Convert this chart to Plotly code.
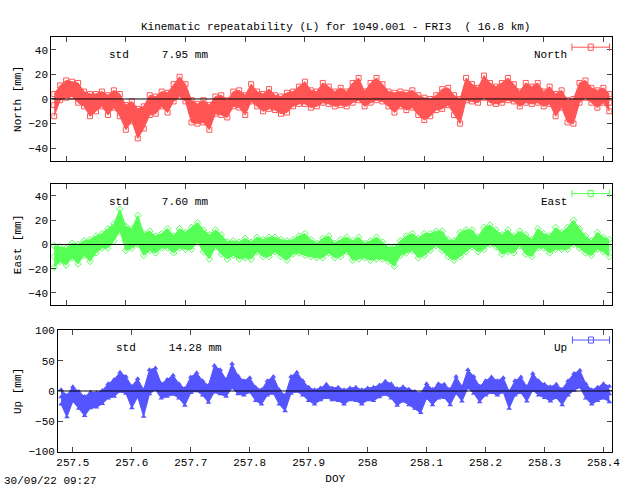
import plotly.graph_objects as go

doy = [round(257.48 + 0.01 * i, 2) for i in range(94)]

north = [-5,5,8,8,5,0,-5,-3,0,-5,0,-5,-15,-10,-20,-15,-5,-5,0,-3,5,10,5,-10,-12,-10,-15,-5,-5,-8,
         0,0,-5,5,0,-3,0,-3,-5,-3,0,3,5,0,0,5,3,0,2,0,5,8,0,5,8,5,0,-3,0,-2,
         0,-5,-8,-7,-3,0,2,-5,-10,8,5,3,10,5,3,5,8,5,0,5,3,5,0,3,-5,0,-10,-10,5,8,
         3,0,3,-3]
east = [-10,-8,-10,-5,-8,-3,-5,0,3,5,10,20,5,5,12,0,3,0,3,5,0,5,3,5,10,3,-2,5,0,-5,
        -3,-5,-3,-5,0,-3,-2,0,-3,-5,-2,0,0,-3,-5,-3,0,-5,-3,0,-5,-3,-5,-5,-3,-5,-8,-10,-3,0,
        2,-3,0,2,5,3,-3,-5,0,3,5,0,5,8,5,0,3,0,5,0,-3,5,3,0,5,3,5,10,5,0,
        -3,3,0,-3]
up = [-10,-25,-5,-15,-25,-15,-15,-10,0,5,15,10,-10,5,-20,15,20,0,5,10,0,-10,10,15,5,-5,20,15,5,25,
      10,5,10,-5,-10,5,10,-10,-20,10,15,5,-5,-10,-5,0,-5,-5,-10,-5,-5,-10,-5,-5,0,5,0,-10,-5,-10,
      -15,-20,0,-10,0,0,-10,10,-5,20,10,-5,5,10,5,10,-15,5,10,-5,15,5,0,-5,0,-10,5,15,20,0,
      -10,-5,0,-5]
spread_ne = [9,6,7,6,8,6,9,7,6,8,7,9,10,8,12,9,8,7,6,8,7,8,7,9,8,9,10,7,8,7,
             6,7,8,7,6,7,8,6,7,8,6,7,9,7,6,8,7,6,7,6,8,9,6,8,9,7,6,8,6,7,
             7,8,9,7,6,8,7,8,10,9,7,6,9,8,7,8,9,7,6,8,7,8,6,7,9,7,9,10,8,7,
             6,7,6,7]
spread_up = [12,18,12,14,16,13,12,11,12,14,16,14,18,15,22,20,18,12,14,16,12,14,13,15,12,14,22,20,14,20,
             15,12,12,11,12,12,14,12,13,14,16,12,11,12,10,11,10,11,12,10,11,12,10,11,10,11,12,14,12,13,
             14,16,12,13,12,11,13,14,12,15,14,13,12,13,12,12,14,12,13,12,14,12,11,12,11,13,12,14,14,12,
             12,11,12,13]

series = [
    ("North", north, spread_ne, "#ff5555", "square-open", "North [mm]", [-50, 50], [-40, -20, 0, 20, 40], "7.95"),
    ("East", east, spread_ne, "#55ff55", "diamond-open", "East [mm]", [-50, 50], [-40, -20, 0, 20, 40], "7.60"),
    ("Up", up, spread_up, "#5555ff", "triangle-up", "Up [mm]", [-100, 100], [-100, -50, 0, 50, 100], "14.28"),
]

def fy(p):
    return 1 - (p - 8) / 479

F = dict(family="Liberation Mono", size=11, color="black")
fig = go.Figure()
domains = [(fy(162), fy(40)), (fy(305), fy(185)), (fy(450), fy(330))]
xr = [257.475, 258.415]
annotations = []
shapes = []
for i, (name, vals, spr, col, sym, ylab, yr, tv, std) in enumerate(series):
    xa = "x" if i == 0 else f"x{i+1}"
    ya = "y" if i == 0 else f"y{i+1}"
    lo = [v - s for v, s in zip(vals, spr)]
    hi = [v + s for v, s in zip(vals, spr)]
    fig.add_trace(go.Scatter(x=doy, y=lo, mode="lines+markers", line=dict(color=col, width=1),
                             marker=dict(symbol=sym, size=5, color=col), xaxis=xa, yaxis=ya, showlegend=False))
    fig.add_trace(go.Scatter(x=doy, y=hi, mode="lines+markers", fill="tonexty", fillcolor=col,
                             line=dict(color=col, width=1), marker=dict(symbol=sym, size=5, color=col),
                             xaxis=xa, yaxis=ya, showlegend=False))
    fig.add_trace(go.Scatter(x=doy, y=vals, mode="markers", marker=dict(symbol=sym, size=5, color=col),
                             xaxis=xa, yaxis=ya, showlegend=False))
    ax = dict(range=xr, domain=[(57 if i == 2 else 50)/640, 620/640], showline=True, mirror="ticks",
              linecolor="black", ticks="inside", ticklen=5, showgrid=False, zeroline=False,
              tickvals=[257.5,257.6,257.7,257.8,257.9,258,258.1,258.2,258.3,258.4],
              ticktext=["257.5","257.6","257.7","257.8","257.9","258","258.1","258.2","258.3","258.4"],
              showticklabels=(i == 2), tickfont=F, anchor=ya)
    if i == 2:
        ax["title"] = dict(text="DOY", font=F, standoff=6)
    ay = dict(range=yr, domain=list(domains[i]), showline=True, mirror="ticks", linecolor="black",
              ticks="inside", ticklen=5, showgrid=False, zeroline=False, tickvals=tv, tickfont=F,
              title=dict(text=ylab, font=F, standoff=4), anchor=xa)
    fig.layout[("xaxis" if i == 0 else f"xaxis{i+1}")] = ax
    fig.layout[("yaxis" if i == 0 else f"yaxis{i+1}")] = ay
    shapes.append(dict(type="line", xref=f"{xa} domain", yref=ya, x0=0, x1=1, y0=0, y1=0,
                       line=dict(color="black", width=1)))
    annotations.append(dict(text=f"std     {std} mm", xref=f"{xa} domain", yref=f"{ya} domain",
                            x=0.1, y=0.92, xanchor="left", showarrow=False, font=F))
    annotations.append(dict(text=name, xref=f"{xa} domain", yref=f"{ya} domain",
                            x=0.922, y=0.92, xanchor="right", showarrow=False, font=F))
    shapes.append(dict(type="line", xref=f"{xa} domain", yref=f"{ya} domain", x0=0.928, x1=0.995,
                       y0=0.92, y1=0.92, line=dict(color=col, width=1)))
    for xe in (0.928, 0.995):
        shapes.append(dict(type="line", xref=f"{xa} domain", yref=f"{ya} domain", x0=xe, x1=xe,
                           y0=0.89, y1=0.95, line=dict(color=col, width=1)))
    shapes.append(dict(type="rect", xref=f"{xa} domain", yref=f"{ya} domain", x0=0.957, x1=0.966,
                       y0=0.895, y1=0.945, line=dict(color=col, width=1)))

fig.update_layout(
    autosize=True, paper_bgcolor="white", plot_bgcolor="white",
    margin=dict(l=0, r=0, t=0, b=0), font=F, shapes=shapes,
    annotations=annotations + [
        dict(text="Kinematic repeatability (L) for 1049.001 - FRI3  ( 16.8 km)", xref="paper", yref="paper",
             x=0.53, y=fy(22), showarrow=False, font=F),
        dict(text="30/09/22 09:27", xref="paper", yref="paper", x=0.0, y=0.0, yanchor="bottom",
             xanchor="left", showarrow=False, font=F),
    ],
)
fig.write_html("out.html", default_width="100vw", default_height="100vh",
               config={"displayModeBar": False, "responsive": True},
               post_script="document.body.style.margin='0';document.body.style.overflow='hidden';")
